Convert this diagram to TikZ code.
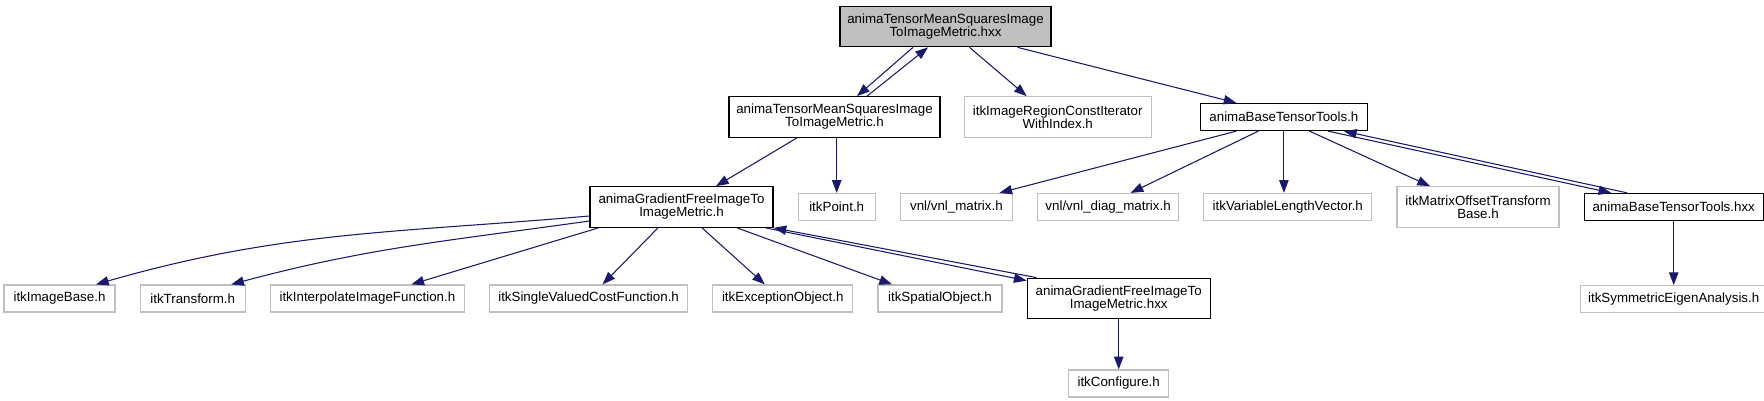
\documentclass[tikz,border=0pt]{standalone}
\usepackage{fontspec}
\setmainfont{Liberation Sans}
\usetikzlibrary{positioning,arrows.meta,calc}
\definecolor{DoxyBlue}{RGB}{25,25,112}
\definecolor{DoxyGrey}{RGB}{191,191,191}
\tikzset{
  incl/.style={-{Triangle[length=9.5pt,width=7pt]},line width=0.8pt,draw=DoxyBlue},
  filebox/.style={draw=black,fill=white,line width=0.9pt,inner sep=1pt,
    minimum height=20.25pt,align=center,font=\fontsize{10}{9.75}\selectfont},
  twoline/.style={minimum height=30.4pt},
  extbox/.style={filebox,draw=DoxyGrey},
  rootbox/.style={filebox,fill=DoxyGrey,twoline}
}
\begin{document}
\begin{tikzpicture}[x=0.75pt,y=0.75pt]
  \useasboundingbox (0,0) rectangle (1764,-400);
  \node[rootbox,minimum width=158.25pt] (tmsxx) at (945.5,-26.5) {animaTensorMeanSquaresImage\\ToImageMetric.hxx};
  \node[filebox,twoline,minimum width=158.25pt] (tmsh) at (834.5,-117) {animaTensorMeanSquaresImage\\ToImageMetric.h};
  \node[extbox,twoline,right=17.25pt of tmsh,minimum width=140.25pt] (regit) {itkImageRegionConstIterator\\WithIndex.h};
  \node[filebox,right=36pt of regit,minimum width=125.25pt] (btools) {animaBaseTensorTools.h};
  \node[filebox,twoline,minimum width=137.25pt] (gfh) at (681.5,-207) {animaGradientFreeImageTo\\ImageMetric.h};
  \node[extbox,right=18pt of gfh,minimum width=57.75pt] (point) {itkPoint.h};
  \node[extbox,right=18pt of point,minimum width=84pt] (vmat) {vnl/vnl\_matrix.h};
  \node[extbox,right=18pt of vmat,minimum width=105.75pt] (vdiag) {vnl/vnl\_diag\_matrix.h};
  \node[extbox,right=18pt of vdiag,minimum width=126pt] (varvec) {itkVariableLengthVector.h};
  \node[extbox,twoline,right=18pt of varvec,minimum width=121.5pt] (mot) {itkMatrixOffsetTransform\\Base.h};
  \node[filebox,right=18pt of mot,minimum width=134.25pt] (btxx) {animaBaseTensorTools.hxx};
  \node[extbox,minimum width=83.25pt] (imgbase) at (59.5,-298.5) {itkImageBase.h};
  \node[extbox,right=18pt of imgbase,minimum width=78.75pt] (transf) {itkTransform.h};
  \node[extbox,right=18pt of transf,minimum width=145.5pt] (interp) {itkInterpolateImageFunction.h};
  \node[extbox,right=18pt of interp,minimum width=148.5pt] (svcf) {itkSingleValuedCostFunction.h};
  \node[extbox,right=18pt of svcf,minimum width=105pt] (excobj) {itkExceptionObject.h};
  \node[extbox,right=18pt of excobj,minimum width=93pt] (spatial) {itkSpatialObject.h};
  \node[filebox,twoline,right=18pt of spatial,minimum width=137.25pt] (gfxx) {animaGradientFreeImageTo\\ImageMetric.hxx};
  \node[extbox,below=48pt of btxx,minimum width=140.25pt] (symeig) {itkSymmetricEigenAnalysis.h};
  \node[extbox,below=37.5pt of gfxx,minimum width=75pt] (config) {itkConfigure.h};
  \draw[incl] ($(tmsxx.south)+(-32.5,0)$) -- ($(tmsh.north)+(22.5,0)$);
  \draw[incl] ($(tmsh.north)+(32.5,0)$) -- ($(tmsxx.south)+(-17.5,0)$);
  \draw[incl] ($(tmsxx.south)+(24,0)$) -- ($(regit.north)+(-31,0)$);
  \draw[incl] ($(tmsxx.south)+(72,0)$) -- ($(btools.north)+(-47.5,0)$);
  \draw[incl] ($(tmsh.south)+(-37.5,0)$) -- ($(gfh.north)+(34.5,0)$);
  \draw[incl] (tmsh.south -| point.north) -- (point.north);
  \draw[incl] ($(gfh.west)+(0,-9)$) to[out=185,in=16] ($(imgbase.north)+(36.5,0)$);
  \draw[incl] ($(gfh.west)+(0,-14)$) to[out=188,in=15] ($(transf.north)+(38.5,0)$);
  \draw[incl] ($(gfh.south west)+(9,0)$) -- ($(interp.north)+(44,0)$);
  \draw[incl] ($(gfh.south)+(-23.5,0)$) -- ($(svcf.north)+(14,0)$);
  \draw[incl] ($(gfh.south)+(20.5,0)$) -- ($(excobj.north)+(-18,0)$);
  \draw[incl] ($(gfh.south)+(55.5,0)$) -- ($(spatial.north)+(-48,0)$);
  \draw[incl] ($(gfh.south east)+(-8,0)$) -- ($(gfxx.north west)+(0,-3)$);
  \draw[incl] ($(gfxx.north west)+(10,0)$) -- (gfh.south east);
  \draw[incl] (gfxx) -- (config);
  \draw[incl] ($(btools.south)+(-47.5,0)$) -- ($(vmat.north)+(43,0)$);
  \draw[incl] ($(btools.south)+(-25.5,0)$) -- ($(vdiag.north)+(22.5,0)$);
  \draw[incl] (btools.south) -- (btools.south |- varvec.north);
  \draw[incl] ($(btools.south)+(25.5,0)$) -- ($(mot.north)+(-48,0)$);
  \draw[incl] ($(btools.south)+(44,0)$) -- ($(btxx.north)+(-62.5,0)$);
  \draw[incl] ($(btxx.north)+(-46.5,0)$) -- ($(btools.south)+(60,0)$);
  \draw[incl] (btxx) -- (symeig);
\end{tikzpicture}
\end{document}
